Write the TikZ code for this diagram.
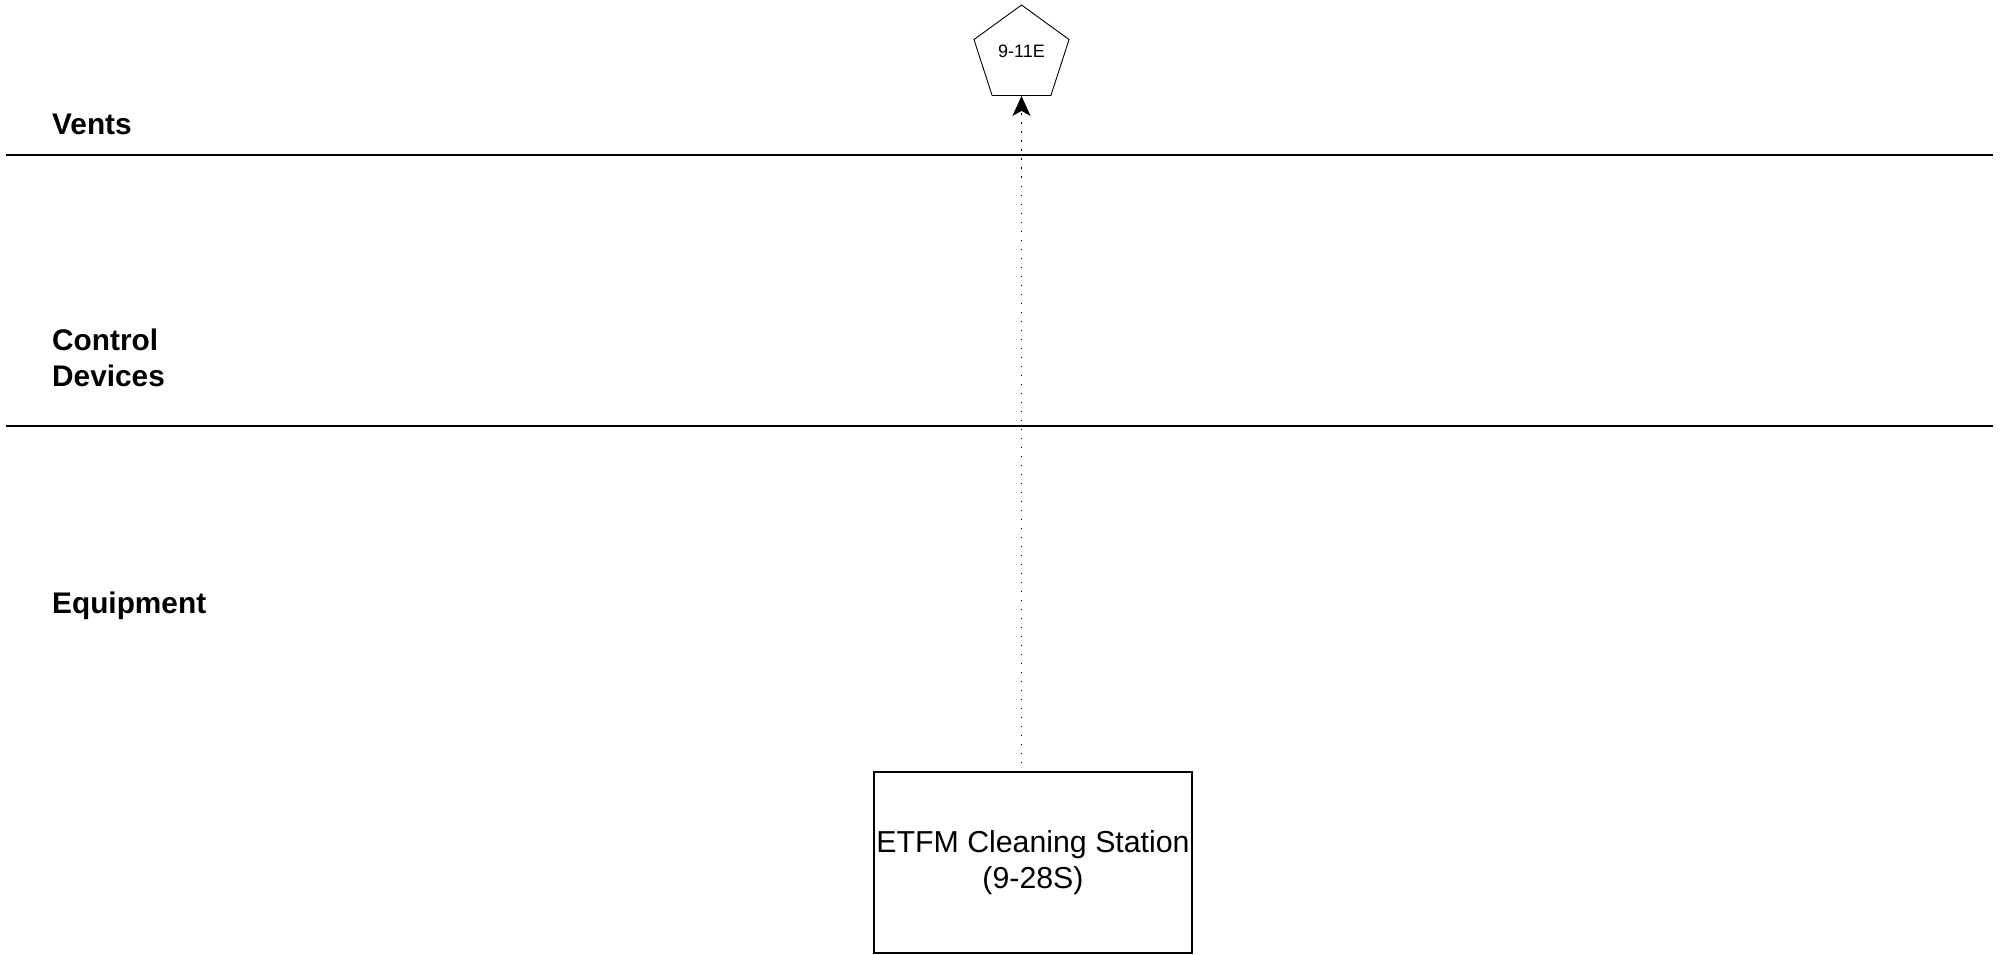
\documentclass[tikz,border=0pt]{standalone}
\usepackage{fontspec}
\setmainfont{Liberation Sans}
\usetikzlibrary{shapes.geometric,arrows.meta}
\begin{document}
\begin{tikzpicture}[x=1pt,y=-1pt,
  lane/.style={line width=1.6pt},
  lanelabel/.style={anchor=west,align=left,font=\bfseries\fontsize{29.8}{36}\selectfont,inner sep=0pt},
  ventnode/.style={regular polygon,regular polygon sides=5,draw,line width=0.9pt,minimum size=100pt,inner sep=0pt},
  equipbox/.style={draw,line width=1.2pt,minimum width=318pt,minimum height=181pt,align=center,inner sep=0pt,font=\fontsize{30.3}{36}\selectfont},
  flow/.style={line width=1.3pt,dash pattern=on 1.5pt off 7.5pt,-{Stealth[width=18pt,length=20pt,inset=5pt]}}]
\useasboundingbox (0,0) rectangle (2004,955);
% swim-lane separators
\draw[lane] (6,155) coordinate (l1a) -- (1993,155) coordinate (l1b);
\draw[lane] (6,426) coordinate (l2a) -- (1993,426) coordinate (l2b);
% lane titles
\node[lanelabel] (vents) at (52,124) {Vents};
\node[lanelabel] (ctrl) at (52,358) {Control\\Devices};
\node[lanelabel] (equip) at (52,606) {Equipment};
% vent and equipment
\node[ventnode] (v911) at (1021.5,55) {};
\node[font=\fontsize{18}{21}\selectfont] (v911t) at (1021.5,51) {9-11E};
\node[equipbox] (etfm) at (1033,862.5) {ETFM Cleaning Station\\(9-28S)};
\coordinate (etfmtop) at (1021.5,772);
\draw[flow] (etfmtop) -- (v911.south);
\end{tikzpicture}
\end{document}
